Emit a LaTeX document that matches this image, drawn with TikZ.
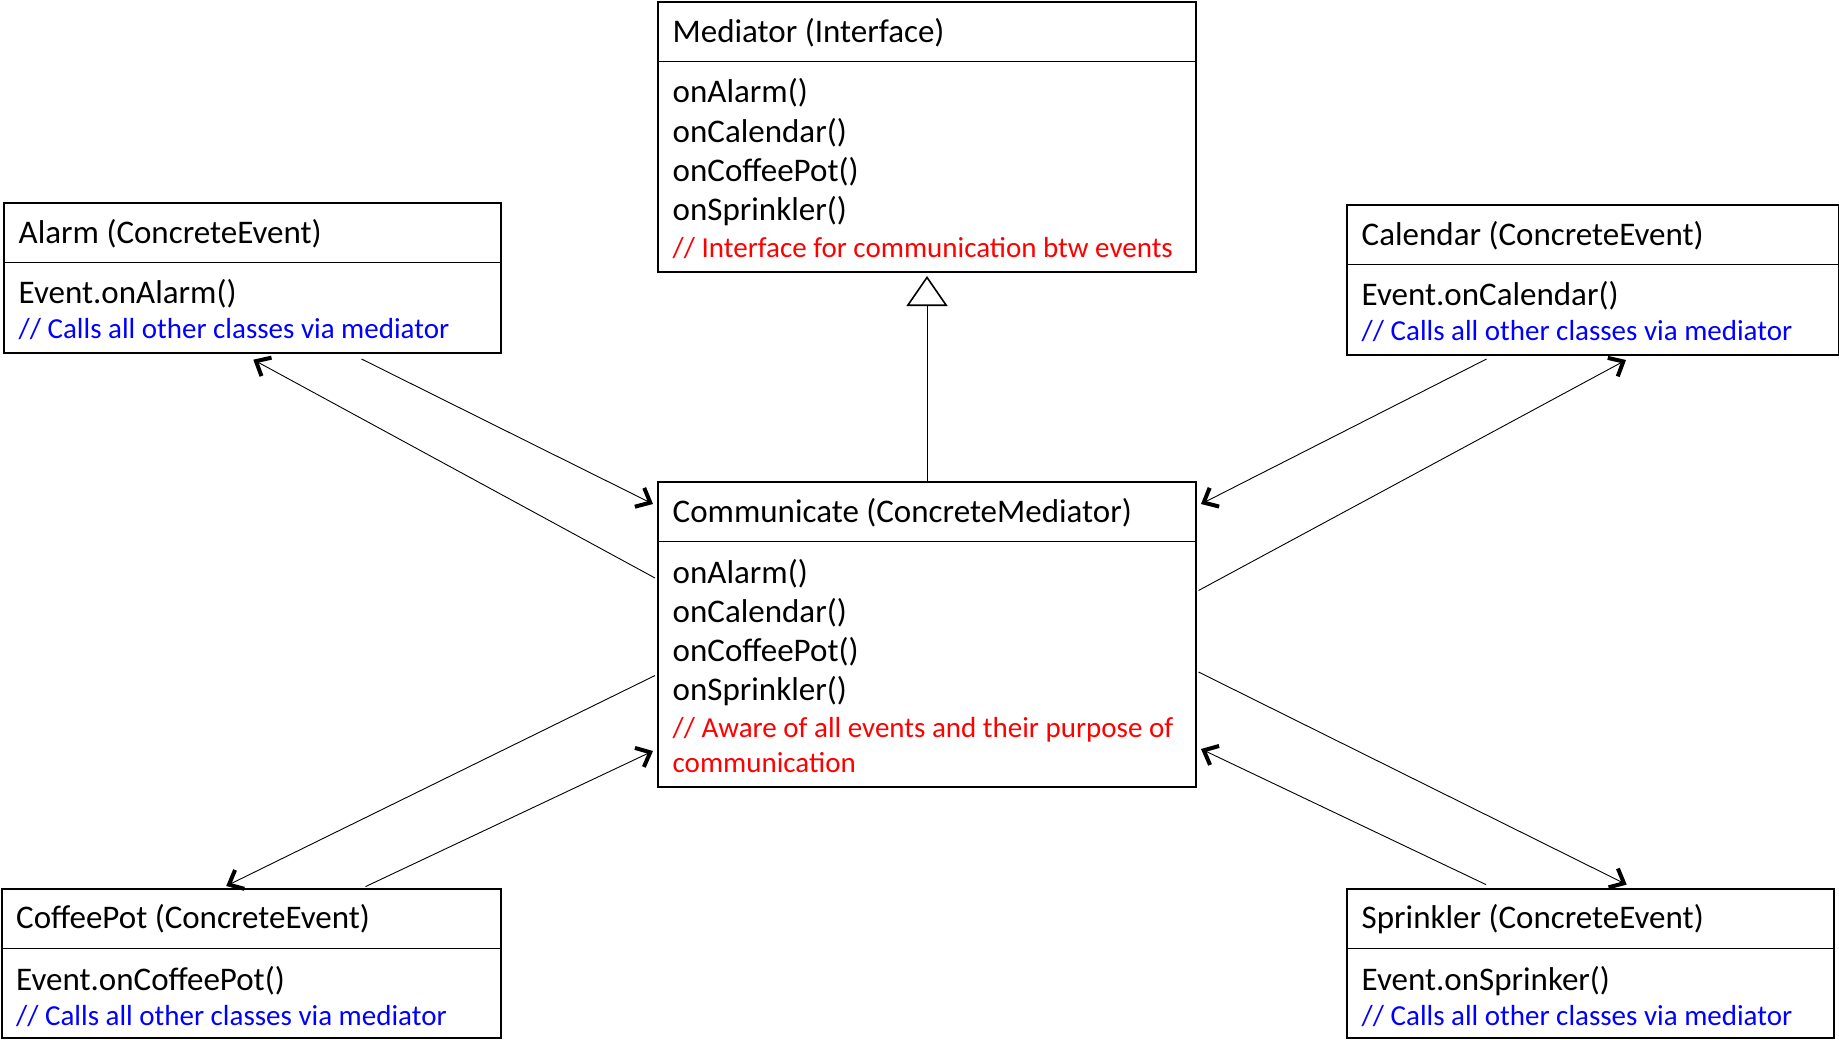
\documentclass[tikz,border=0pt]{standalone}
\usepackage{fontspec}
\setmainfont{Carlito}
\usetikzlibrary{arrows.meta,calc}
\begin{document}
\begin{tikzpicture}[x=1pt,y=-1pt,
  cls/.style={draw=black, line width=2pt, rectangle, inner sep=0pt, anchor=north west},
  divider/.style={draw=black, line width=1.8pt},
  ttl/.style={anchor=base west, inner sep=0pt, font=\fontsize{33}{40}\selectfont},
  rcm/.style={anchor=base west, inner sep=0pt, text=red, font=\fontsize{29}{35}\selectfont},
  bcm/.style={anchor=base west, inner sep=0pt, text=blue, font=\fontsize{29}{35}\selectfont},
  conn/.style={draw=black, line width=0.9pt, -{Straight Barb[length=12pt,width=21pt,line width=4pt]}},
  inherit/.style={draw=black, line width=0.9pt, shorten >=3pt, -{Triangle[open,length=30pt,width=41pt,line width=1.6pt]}}
]
\useasboundingbox (0,0) rectangle (1839,1039);

% ---------- boxes ----------
\node[cls, minimum width=538pt, minimum height=270pt] (med) at (657,1) {};
\node[cls, minimum width=497pt, minimum height=150pt] (alarm) at (3,202) {};
\node[cls, minimum width=492pt, minimum height=150pt] (cal) at (1346,204) {};
\node[cls, minimum width=538pt, minimum height=305pt] (comm) at (657,481) {};
\node[cls, minimum width=499pt, minimum height=149pt] (coffee) at (1,888) {};
\node[cls, minimum width=487pt, minimum height=149pt] (spr) at (1346,888) {};

% ---------- dividers ----------
\foreach \b in {med,alarm,cal,comm,coffee,spr}{
  \draw[divider] ($(\b.north west)+(0,60.5)$) -- ($(\b.north east)+(0,60.5)$);
}

% ---------- Mediator ----------
\node[ttl] (medT) at ($(med.north west)+(15.5,41)$) {Mediator (Interface)};
\node[ttl] (medA) at ($(med.north west)+(15.5,101.7)$) {onAlarm()};
\node[ttl] (medB) at ($(med.north west)+(15.5,141)$) {onCalendar()};
\node[ttl] (medC) at ($(med.north west)+(15.5,180.3)$) {onCoffeePot()};
\node[ttl] (medD) at ($(med.north west)+(15.5,219.5)$) {onSprinkler()};
\node[rcm] (medE) at ($(med.north west)+(15.5,256)$) {// Interface for communication btw events};

% ---------- Alarm ----------
\node[ttl] (alT) at ($(alarm.north west)+(15.5,41.3)$) {Alarm (ConcreteEvent)};
\node[ttl] (alA) at ($(alarm.north west)+(15.5,101.3)$) {Event.onAlarm()};
\node[bcm] (alB) at ($(alarm.north west)+(15.5,136.3)$) {// Calls all other classes via mediator};

% ---------- Calendar ----------
\node[ttl] (caT) at ($(cal.north west)+(15.5,41)$) {Calendar (ConcreteEvent)};
\node[ttl] (caA) at ($(cal.north west)+(15.5,101)$) {Event.onCalendar()};
\node[bcm] (caB) at ($(cal.north west)+(15.5,136)$) {// Calls all other classes via mediator};

% ---------- Communicate ----------
\node[ttl] (coT) at ($(comm.north west)+(15.5,41)$) {Communicate (ConcreteMediator)};
\node[ttl] (coA) at ($(comm.north west)+(15.5,102)$) {onAlarm()};
\node[ttl] (coB) at ($(comm.north west)+(15.5,141)$) {onCalendar()};
\node[ttl] (coC) at ($(comm.north west)+(15.5,180.5)$) {onCoffeePot()};
\node[ttl] (coD) at ($(comm.north west)+(15.5,219.3)$) {onSprinkler()};
\node[rcm] (coE) at ($(comm.north west)+(15.5,256)$) {// Aware of all events and their purpose of};
\node[rcm] (coF) at ($(comm.north west)+(15.5,291)$) {communication};

% ---------- CoffeePot ----------
\node[ttl] (cpT) at ($(coffee.north west)+(15,40.5)$) {CoffeePot (ConcreteEvent)};
\node[ttl] (cpA) at ($(coffee.north west)+(15,102)$) {Event.onCoffeePot()};
\node[bcm] (cpB) at ($(coffee.north west)+(15,137)$) {// Calls all other classes via mediator};

% ---------- Sprinkler ----------
\node[ttl] (spT) at ($(spr.north west)+(15.5,40.5)$) {Sprinkler (ConcreteEvent)};
\node[ttl] (spA) at ($(spr.north west)+(15.5,102)$) {Event.onSprinker()};
\node[bcm] (spB) at ($(spr.north west)+(15.5,137)$) {// Calls all other classes via mediator};

% ---------- connectors ----------
% Alarm
\draw[conn] ($(comm.north west)+(-2,97)$) -- ($(alarm.south west)+(250.3,5.7)$);
\draw[conn] ($(alarm.south west)+(358.5,5)$) -- ($(comm.north west)+(-4,23)$);
% Calendar
\draw[conn] ($(cal.south west)+(140.5,3)$) -- ($(comm.north east)+(4,23)$);
\draw[conn] ($(comm.north east)+(1.5,109.5)$) -- ($(cal.south west)+(280,4)$);
% CoffeePot
\draw[conn] ($(comm.north west)+(-2,194.5)$) -- ($(coffee.north west)+(225.2,-2)$);
\draw[conn] ($(coffee.north west)+(364.5,-1.4)$) -- ($(comm.north west)+(-4,270)$);
% Sprinkler
\draw[conn] ($(spr.north west)+(140,-3.4)$) -- ($(comm.north east)+(4,268)$);
\draw[conn] ($(comm.north east)+(1.5,191)$) -- ($(spr.north west)+(280.7,-3.4)$);
% Inheritance
\draw[inherit] (comm.north) -- (med.south);
\end{tikzpicture}
\end{document}
